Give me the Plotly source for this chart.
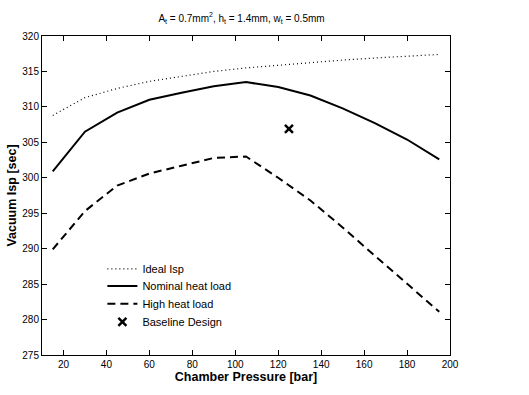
import plotly.graph_objects as go

pressure = [15, 30, 45, 60, 75, 90, 105, 120, 135, 150, 165, 180, 195]
ideal_isp = [308.8, 311.3, 312.6, 313.6, 314.3, 315.0, 315.5, 315.9, 316.3, 316.6, 316.9, 317.2, 317.4]
nominal_isp = [300.9, 306.5, 309.2, 311.0, 312.0, 312.9, 313.5, 312.8, 311.6, 309.8, 307.7, 305.4, 302.6]
high_isp = [289.9, 295.3, 298.9, 300.6, 301.7, 302.8, 303.0, 300.0, 296.8, 293.0, 289.0, 285.1, 281.1]
baseline_p = [125]
baseline_isp = [306.9]

font_family = "Liberation Sans, Arial, sans-serif"

fig = go.Figure()
fig.add_trace(go.Scatter(x=pressure, y=ideal_isp, mode="lines", name="Ideal Isp", legend="legend",
                         line=dict(color="black", width=1.2, dash="1px,3px")))
fig.add_trace(go.Scatter(x=pressure, y=nominal_isp, mode="lines", name="Nominal heat load", legend="legend2",
                         line=dict(color="black", width=2)))
fig.add_trace(go.Scatter(x=pressure, y=high_isp, mode="lines", name="High heat load", legend="legend3",
                         line=dict(color="black", width=2, dash="8px,5px")))
fig.add_trace(go.Scatter(x=baseline_p, y=baseline_isp, mode="markers", name="Baseline Design", legend="legend4",
                         marker=dict(symbol="x-thin-open", size=8, color="black",
                                     line=dict(color="black", width=2.5))))

plot_top, plot_bottom = 36, 355
ph = plot_bottom - plot_top
legend_centers = [268.3, 285.5, 303.3, 321.3]
legend_offset = 14.0  # px from box top to entry centre


def legend_cfg(center_px):
    return dict(x=0.148, y=(plot_bottom - (center_px - legend_offset)) / ph,
                xanchor="left", yanchor="top", bgcolor="rgba(0,0,0,0)",
                borderwidth=0, font=dict(size=11, family=font_family))


fig.update_layout(
    width=529, height=395,
    margin=dict(l=40, r=79, t=plot_top, b=395 - plot_bottom),
    paper_bgcolor="white", plot_bgcolor="white",
    font=dict(family=font_family, size=10, color="black"),
    title=dict(text="A<sub>t</sub> = 0.7mm<sup>2</sup>, h<sub>t</sub> = 1.4mm, w<sub>t</sub> = 0.5mm",
               x=241.5 / 529, xanchor="center", y=1 - 18 / 395, yanchor="middle",
               font=dict(size=10, family=font_family)),
    showlegend=True,
    legend=legend_cfg(legend_centers[0]),
    legend2=legend_cfg(legend_centers[1]),
    legend3=legend_cfg(legend_centers[2]),
    legend4=legend_cfg(legend_centers[3]),
    xaxis=dict(range=[10, 200], tickvals=[20, 40, 60, 80, 100, 120, 140, 160, 180, 200],
               ticks="inside", ticklen=5, tickcolor="black", mirror="ticks",
               showline=True, linecolor="black", linewidth=1, showgrid=False, zeroline=False,
               title=dict(text="<b>Chamber Pressure [bar]</b>", font=dict(size=12.5), standoff=2)),
    yaxis=dict(range=[275, 320], tickvals=list(range(275, 321, 5)),
               ticks="inside", ticklen=5, tickcolor="black", mirror="ticks",
               showline=True, linecolor="black", linewidth=1, showgrid=False, zeroline=False,
               title=dict(text="<b>Vacuum Isp [sec]</b>", font=dict(size=12.5), standoff=2)),
)

fig.write_html("out.html")
